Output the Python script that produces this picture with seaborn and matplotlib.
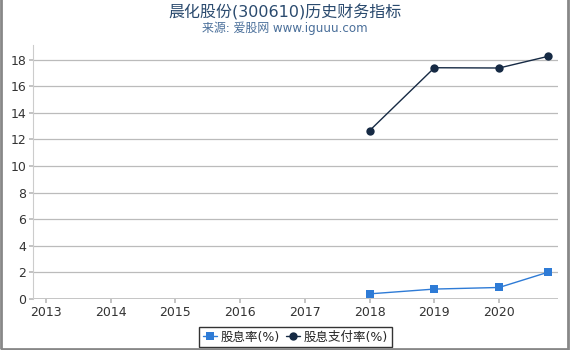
import matplotlib
matplotlib.use("Agg")
import matplotlib.pyplot as plt
import seaborn as sns
import pandas as pd
from matplotlib.patches import Rectangle

years = [2018, 2019, 2020, 2020.75]
dividend_yield = [0.38, 0.74, 0.86, 2.0]
payout_ratio = [12.67, 17.4, 17.38, 18.25]
tick_years = [2013, 2014, 2015, 2016, 2017, 2018, 2019, 2020]
y_ticks = [0, 2, 4, 6, 8, 10, 12, 14, 16, 18]
series_names = ["股息率(%)", "股息支付率(%)"]

sns.set_theme(style="white")
plt.rcParams['font.family'] = ['DejaVu Sans', 'Noto Sans CJK SC']

fig = plt.figure(figsize=(5.7, 3.5), dpi=100)
ax = fig.add_axes([0.058, 0.146, 0.921, 0.725])

df = pd.DataFrame({"year": years, series_names[0]: dividend_yield, series_names[1]: payout_ratio})

sns.lineplot(data=df, x="year", y=series_names[0], ax=ax, color="#2e7bd6", marker="s",
             markersize=6, linewidth=1, markeredgewidth=0, label=series_names[0])
sns.lineplot(data=df, x="year", y=series_names[1], ax=ax, color="#162a44", marker="o",
             markersize=6, linewidth=1, markeredgewidth=0, label=series_names[1])

ax.set_xlim(2012.8, 2020.91)
ax.set_ylim(0, 19.1)
ax.set_xticks(tick_years)
ax.set_xticklabels([str(y) for y in tick_years])
ax.set_yticks(y_ticks)
ax.set_xlabel("")
ax.set_ylabel("")
for y in y_ticks[1:]:
    ax.axhline(y, color="#bbbbbb", linewidth=0.9, zorder=0)
ax.axhline(0, color="#bbbbbb", linewidth=1.2, zorder=0)

for s in ["top", "right"]:
    ax.spines[s].set_visible(False)
ax.spines["bottom"].set_visible(False)
ax.spines["left"].set_color("#cccccc")
ax.spines["left"].set_linewidth(0.8)
ax.tick_params(axis="y", left=True, length=3, color="#bbbbbb", labelsize=9, labelcolor="#333333", pad=2)
ax.tick_params(axis="x", bottom=True, length=3, color="#bbbbbb", labelsize=9, labelcolor="#333333", pad=2)

leg = ax.legend(loc="upper center", bbox_to_anchor=(0.5, -0.085), ncol=2, frameon=True,
                fontsize=9, handlelength=1.1, handletextpad=0.3, columnspacing=0.5,
                borderpad=0.3, fancybox=False)
leg.get_frame().set_edgecolor("black")
leg.get_frame().set_linewidth(1)

fig.text(0.5, 0.965, "晨化股份(300610)历史财务指标", ha="center", va="center", fontsize=11.5, color="#2a4a6e")
fig.text(0.5, 0.918, "来源: 爱股网 www.iguuu.com", ha="center", va="center", fontsize=8.6, color="#4a6f9a")

fig.patches.append(Rectangle((0.002, 0.004), 0.995, 1.2, transform=fig.transFigure, fill=False,
                             edgecolor="#888888", linewidth=2))

fig.savefig("out.png", dpi=100)
